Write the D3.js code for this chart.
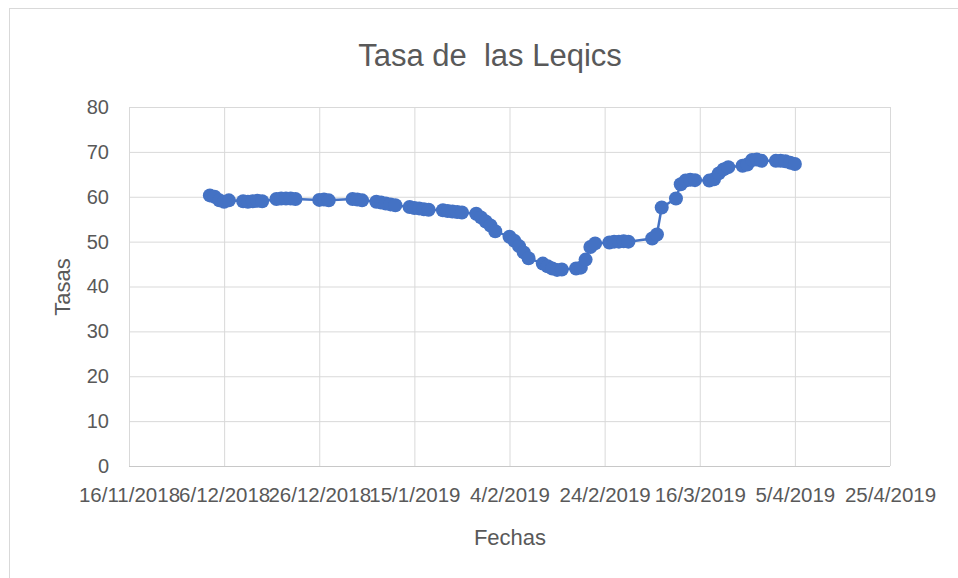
<!DOCTYPE html>
<head>
<style>
  body { margin: 0; background: #fff; }
  text { font-family: "Liberation Sans", Arial, sans-serif; fill: #595959; }
</style>
</head>
<body>
<div id="chart_container"></div>
<script src="https://cdn.jsdelivr.net/npm/d3@7"></script>
<script>

// fechas (dias habiles) y tasas
const fechas = [
  '2018-12-03','2018-12-04','2018-12-05','2018-12-06','2018-12-07',
  '2018-12-10','2018-12-11','2018-12-12','2018-12-13','2018-12-14',
  '2018-12-17','2018-12-18','2018-12-19','2018-12-20','2018-12-21',
  '2018-12-26','2018-12-27','2018-12-28',
  '2019-01-02','2019-01-03','2019-01-04',
  '2019-01-07','2019-01-08','2019-01-09','2019-01-10','2019-01-11',
  '2019-01-14','2019-01-15','2019-01-16','2019-01-17','2019-01-18',
  '2019-01-21','2019-01-22','2019-01-23','2019-01-24','2019-01-25',
  '2019-01-28','2019-01-29','2019-01-30','2019-01-31','2019-02-01',
  '2019-02-04','2019-02-05','2019-02-06','2019-02-07','2019-02-08',
  '2019-02-11','2019-02-12','2019-02-13','2019-02-14','2019-02-15',
  '2019-02-18','2019-02-19','2019-02-20','2019-02-21','2019-02-22',
  '2019-02-25','2019-02-26','2019-02-27','2019-02-28','2019-03-01',
  '2019-03-06','2019-03-07','2019-03-08',
  '2019-03-11','2019-03-12','2019-03-13','2019-03-14','2019-03-15',
  '2019-03-18','2019-03-19','2019-03-20','2019-03-21','2019-03-22',
  '2019-03-25','2019-03-26','2019-03-27','2019-03-28','2019-03-29',
  '2019-04-01','2019-04-02','2019-04-03','2019-04-04','2019-04-05'
]

const tasas = [
  60.3, 60.0, 59.2, 58.9, 59.2,
  59.0, 58.9, 59.0, 59.1, 59.0,
  59.5, 59.6, 59.6, 59.6, 59.5,
  59.3, 59.4, 59.2,
  59.5, 59.4, 59.2,
  58.9, 58.7, 58.5, 58.3, 58.1,
  57.7, 57.5, 57.4, 57.2, 57.1,
  57.0, 56.8, 56.7, 56.6, 56.5,
  56.2, 55.4, 54.5, 53.6, 52.3,
  51.1, 50.2, 49.0, 47.6, 46.3,
  45.1, 44.5, 44.0, 43.7, 43.8,
  44.0, 44.2, 46.0, 48.8, 49.6,
  49.8, 50.0, 50.0, 50.1, 50.0,
  50.7, 51.6, 57.6,
  59.6, 62.8, 63.6, 63.8, 63.7,
  63.6, 63.9, 65.2, 66.1, 66.6,
  66.9, 67.2, 68.2, 68.3, 68.0,
  68.0, 68.0, 67.9, 67.6, 67.3
]

const xTicks = ['2018-11-16','2018-12-06','2018-12-26','2019-01-15','2019-02-04',
                '2019-02-24','2019-03-16','2019-04-05','2019-04-25']
const yTicks = [0, 10, 20, 30, 40, 50, 60, 70, 80]

const width = 958
const height = 578
const margin = {left: 129, right: 68, top: 107, bottom: 112}

const parse = d3.timeParse('%Y-%m-%d')
const fmt = d => d.getDate() + '/' + (d.getMonth() + 1) + '/' + d.getFullYear()

const data = fechas.map((f, i) => ({date: parse(f), value: tasas[i]}))

const svg = d3.select('#chart_container')
  .append('svg')
  .attr('width', width)
  .attr('height', height)

// borde del area del grafico
svg.append('rect')
  .attr('x', 9.5).attr('y', 8.5)
  .attr('width', 1000).attr('height', 1000)
  .attr('fill', 'none')
  .attr('stroke', '#d9d9d9')

const x = d3.scaleTime()
  .domain([parse(xTicks[0]), parse(xTicks[xTicks.length - 1])])
  .range([margin.left, width - margin.right])

const y = d3.scaleLinear()
  .domain([0, 80])
  .range([height - margin.bottom, margin.top])

// grid
svg.append('g')
  .attr('transform', `translate(0,${height - margin.bottom})`)
  .call(d3.axisBottom(x)
    .tickValues(xTicks.map(parse))
    .tickSize(-(height - margin.top - margin.bottom))
    .tickFormat(fmt)
    .tickPadding(21))
  .call(g => g.select('.domain').remove())
  .call(g => g.selectAll('line').attr('stroke', '#d9d9d9'))
  .call(g => g.selectAll('text').attr('font-size', 20.5).style('fill', '#595959'))

svg.append('g')
  .attr('transform', `translate(${margin.left},0)`)
  .call(d3.axisLeft(y)
    .tickValues(yTicks)
    .tickSize(-(width - margin.left - margin.right))
    .tickPadding(20))
  .call(g => g.select('.domain').remove())
  .call(g => g.selectAll('line').attr('stroke', '#d9d9d9'))
  .call(g => g.selectAll('text').attr('font-size', 20).style('fill', '#595959'))

// eje x
svg.append('line')
  .attr('x1', margin.left).attr('x2', width - margin.right)
  .attr('y1', y(0) + 0.5).attr('y2', y(0) + 0.5)
  .attr('stroke', '#c8c8c8')

// serie
const line = d3.line()
  .x(d => x(d.date))
  .y(d => y(d.value))

svg.append('path')
  .datum(data)
  .attr('fill', 'none')
  .attr('stroke', '#4472c4')
  .attr('stroke-width', 2.5)
  .attr('d', line)

svg.append('g')
  .selectAll('circle')
  .data(data)
  .enter()
  .append('circle')
  .attr('cx', d => x(d.date))
  .attr('cy', d => y(d.value))
  .attr('r', 7)
  .attr('fill', '#4472c4')

// titulos
svg.append('text')
  .attr('x', 490)
  .attr('y', 66)
  .attr('text-anchor', 'middle')
  .attr('font-size', 31)
  .text('Tasa de\u00a0 las Leqics')

svg.append('text')
  .attr('x', 510)
  .attr('y', 545)
  .attr('text-anchor', 'middle')
  .attr('font-size', 22)
  .text('Fechas')

svg.append('text')
  .attr('transform', 'rotate(-90)')
  .attr('x', -287)
  .attr('y', 70)
  .attr('text-anchor', 'middle')
  .attr('font-size', 22)
  .text('Tasas')

</script>
</body>
